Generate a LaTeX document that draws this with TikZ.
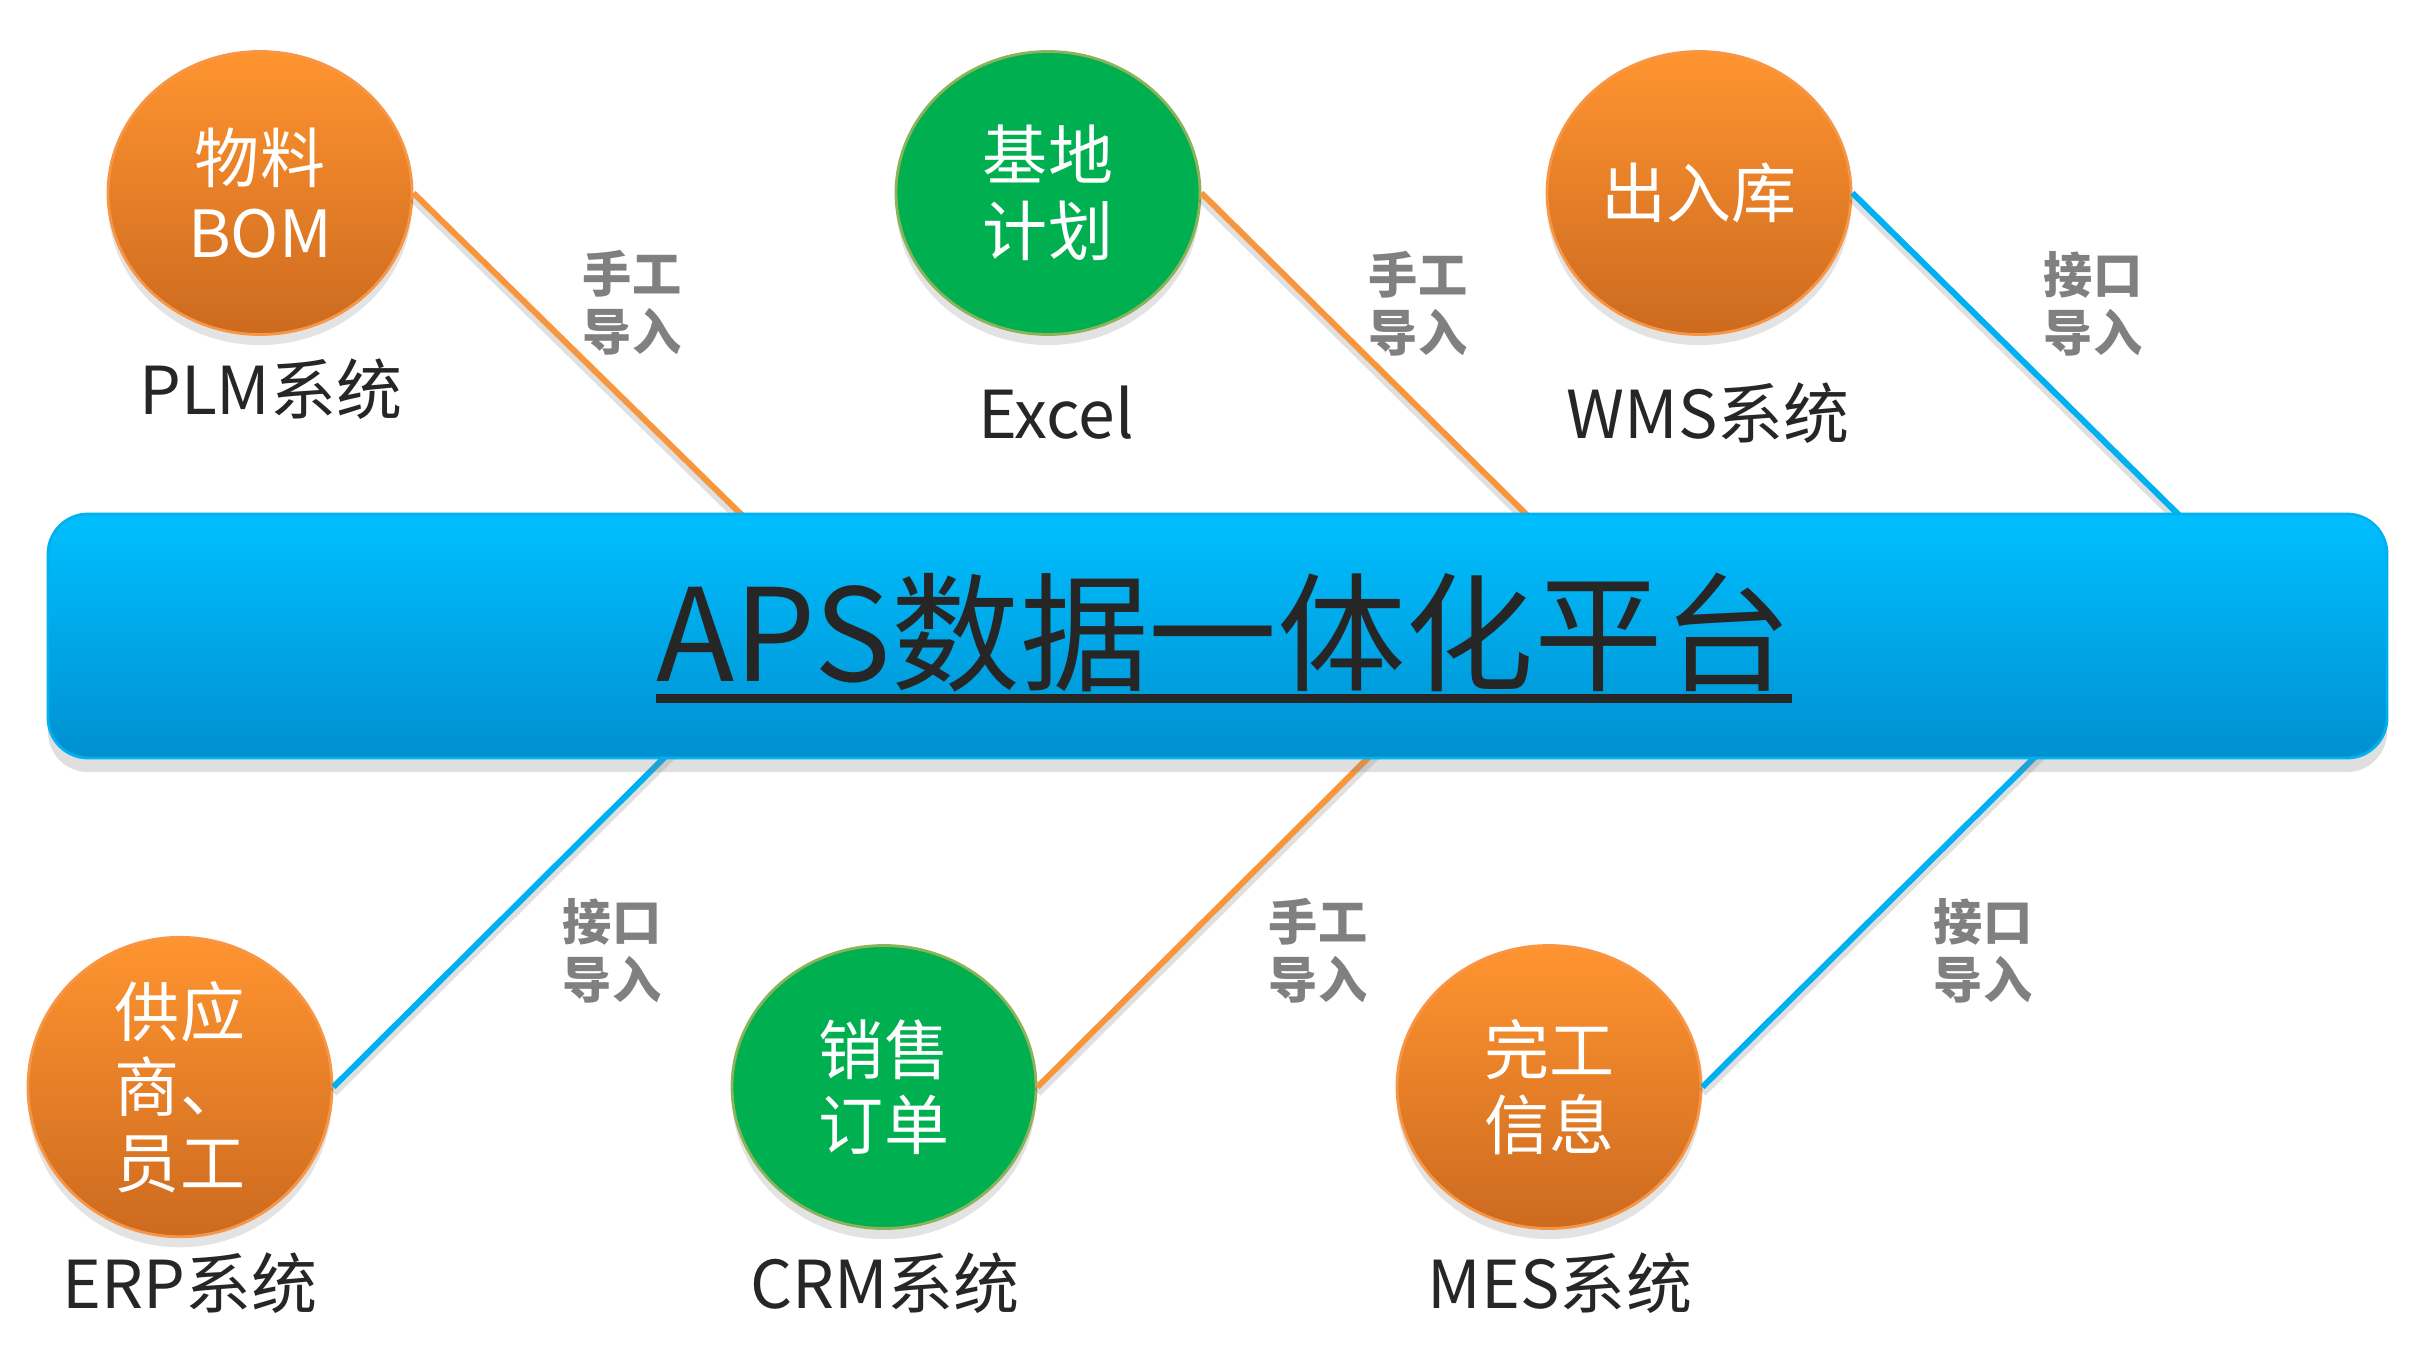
\documentclass[tikz,border=0pt]{standalone}
\usepackage{fontspec}
\setmainfont{Noto Sans CJK SC}
\usetikzlibrary{shapes.geometric,shadows}
\definecolor{orangetop}{HTML}{FF9430}
\definecolor{orangebot}{HTML}{CC6A1F}
\definecolor{orangeedge}{HTML}{F79646}
\definecolor{greenfill}{HTML}{00B050}
\definecolor{greenedge}{HTML}{8CB35A}
\definecolor{bartop}{HTML}{00BFFF}
\definecolor{barbot}{HTML}{0090D0}
\definecolor{baredge}{HTML}{00B0F0}
\definecolor{orangeline}{HTML}{F7963C}
\definecolor{blueline}{HTML}{00B0F0}
\definecolor{labelgray}{HTML}{808080}
\definecolor{textdark}{HTML}{262626}
\begin{document}
\begin{tikzpicture}[
  srcnode/.style={ellipse,minimum width=3.04cm,minimum height=2.83cm,inner sep=0pt,line width=0.8pt,text=white,align=center,font=\fontsize{18.5}{21.5}\selectfont,drop shadow={shadow xshift=0pt,shadow yshift=-3pt,opacity=0.22}},
  orangesrc/.style={srcnode,draw=orangeedge,top color=orangetop,bottom color=orangebot},
  greensrc/.style={srcnode,draw=greenedge,fill=greenfill},
  sysname/.style={anchor=base,inner sep=0pt,text=textdark,font=\fontsize{18.8}{22}\selectfont},
  modelabel/.style={text=labelgray,align=center,font=\bfseries\fontsize{14}{16.5}\selectfont},
  manualline/.style={line width=1.7pt,orangeline,preaction={draw=black,opacity=0.12,line width=2.6pt,transform canvas={yshift=-1.5pt}}},
  ifaceline/.style={line width=1.7pt,blueline,preaction={draw=black,opacity=0.12,line width=2.6pt,transform canvas={yshift=-1.5pt}}},
  platform/.style={rectangle,rounded corners=0.4cm,minimum width=23.39cm,minimum height=2.44cm,draw=baredge,line width=0.8pt,top color=bartop,bottom color=barbot,drop shadow={shadow xshift=0pt,shadow yshift=-4pt,opacity=0.25}}]
\useasboundingbox (0,0) rectangle (24.2,-13.48);

\node(PLM)[orangesrc] at (2.60,-1.93) {物料\\BOM};
\node(EXC)[greensrc] at (10.48,-1.93) {基地\\计划};
\node(WMS)[orangesrc] at (16.99,-1.93) {出入库};
\node(ERP)[orangesrc] at (1.80,-10.87) {供应\\商、\\员工};
\node(CRM)[greensrc] at (8.84,-10.87) {销售\\订单};
\node(MES)[orangesrc] at (15.49,-10.87) {完工\\信息};

\node(PLMname)[sysname] at (2.71,-4.14) {PLM系统};
\node(EXCname)[sysname] at (10.56,-4.38) {Excel};
\node(WMSname)[sysname] at (17.08,-4.38) {WMS系统};
\node(ERPname)[sysname] at (1.90,-13.08) {ERP系统};
\node(CRMname)[sysname] at (8.85,-13.08) {CRM系统};
\node(MESname)[sysname] at (15.60,-13.08) {MES系统};

\node(PLMmode)[modelabel] at (6.32,-3.03) {手工\\导入};
\node(EXCmode)[modelabel] at (14.18,-3.04) {手工\\导入};
\node(WMSmode)[modelabel] at (20.93,-3.04) {接口\\导入};
\node(ERPmode)[modelabel] at (6.12,-9.51) {接口\\导入};
\node(CRMmode)[modelabel] at (13.18,-9.51) {手工\\导入};
\node(MESmode)[modelabel] at (19.83,-9.51) {接口\\导入};

\coordinate (PLMin) at (7.51,-5.24);
\coordinate (EXCin) at (15.36,-5.24);
\coordinate (WMSin) at (21.88,-5.24);
\coordinate (ERPin) at (6.74,-7.48);
\coordinate (CRMin) at (13.78,-7.48);
\coordinate (MESin) at (20.44,-7.48);

\draw[manualline] (PLM.east) -- (PLMin);
\draw[manualline] (EXC.east) -- (EXCin);
\draw[ifaceline] (WMS.east) -- (WMSin);
\draw[ifaceline] (ERP.east) -- (ERPin);
\draw[manualline] (CRM.east) -- (CRMin);
\draw[ifaceline] (MES.east) -- (MESin);

\node(bar)[platform] at (12.175,-6.36) {};
\node(title)[anchor=base,inner sep=0pt,text=textdark,font=\fontsize{36.6}{40}\selectfont] at (12.24,-6.81) {APS数据一体化平台};
\draw[textdark,line width=2.4pt] ([yshift=-5pt]title.base west) -- ([yshift=-5pt]title.base east);

\end{tikzpicture}
\end{document}
